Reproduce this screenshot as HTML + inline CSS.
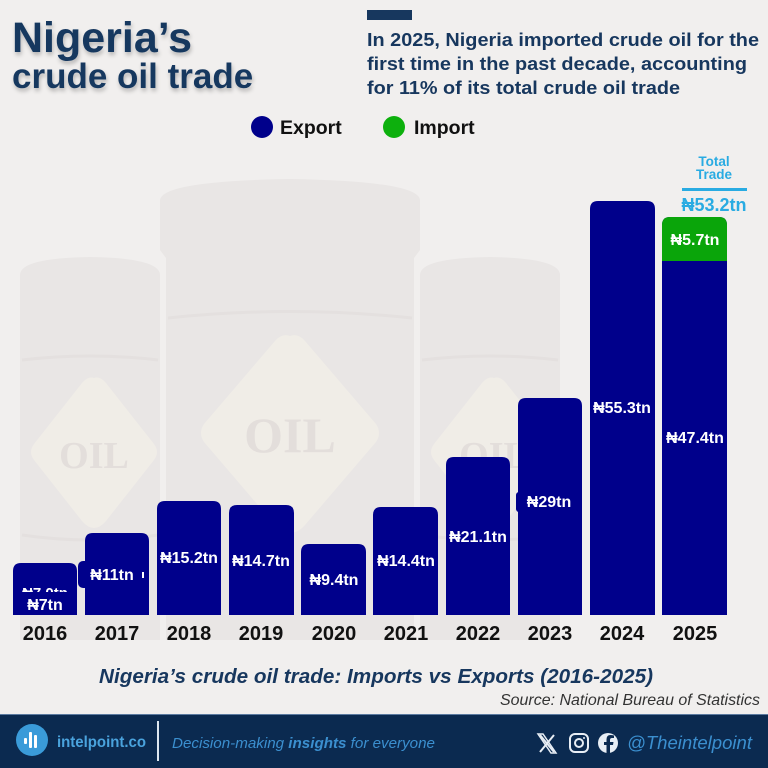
<!DOCTYPE html>
<html>
<head>
<meta charset="utf-8">
<style>
html,body{margin:0;padding:0;background:#f1efee;}
svg{display:block;}
text{font-family:"Liberation Sans",Arial,sans-serif;}
</style>
</head>
<body>
<svg width="768" height="768" viewBox="0 0 768 768" xmlns="http://www.w3.org/2000/svg">
  <defs>
    <filter id="sh" x="-10%" y="-20%" width="120%" height="150%">
      <feGaussianBlur in="SourceAlpha" stdDeviation="2"/>
      <feOffset dx="1" dy="3" result="b"/>
      <feComponentTransfer><feFuncA type="linear" slope="0.25"/></feComponentTransfer>
      <feMerge><feMergeNode/><feMergeNode in="SourceGraphic"/></feMerge>
    </filter>
    <clipPath id="c70"><rect x="0" y="580" width="100" height="12"/></clipPath>
  </defs>
  <rect width="768" height="768" fill="#f1efee"/>

  <!-- barrels background -->
  <g fill="#e9e6e5">
    <path d="M20 275 Q20 258 90 257 Q160 258 160 275 L160 640 L20 640 Z"/>
    <path d="M420 275 Q420 258 490 257 Q560 258 560 275 L560 640 L420 640 Z"/>
    <path d="M160 200 Q162 181 290 179 Q418 181 420 200 L420 250 L414 258 L414 640 L166 640 L166 258 L160 250 Z"/>
  </g>
  <g fill="none" stroke="#e4e0df" stroke-width="3">
    <path d="M168 318 Q290 305 412 318"/>
    <path d="M22 360 Q90 352 158 360"/>
    <path d="M422 360 Q490 352 558 360"/>
    <path d="M22 535 Q90 545 158 535"/>
    <path d="M422 535 Q490 545 558 535"/>
  </g>
  <g fill="#f0ede7">
    <path d="M290 336 Q298 333 305 341 L376 424 Q382 433 376 442 L305 525 Q298 533 290 533 Q282 533 275 525 L204 442 Q198 433 204 424 L275 341 Q282 333 290 336 Z"/>
    <path d="M94 378 Q100 376 106 383 L154 444 Q160 452 154 460 L106 521 Q100 528 94 528 Q88 528 82 521 L34 460 Q28 452 34 444 L82 383 Q88 376 94 378 Z"/>
    <path d="M494 378 Q500 376 506 383 L554 444 Q560 452 554 460 L506 521 Q500 528 494 528 Q488 528 482 521 L434 460 Q428 452 434 444 L482 383 Q488 376 494 378 Z"/>
  </g>
  <g fill="#e3dedb" font-weight="bold" text-anchor="middle">
    <text x="290" y="452" font-size="50" style="font-family:'Liberation Serif',serif">OIL</text>
    <text x="94" y="468" font-size="38" style="font-family:'Liberation Serif',serif">OIL</text>
    <text x="494" y="468" font-size="38" style="font-family:'Liberation Serif',serif">OIL</text>
  </g>

  <!-- title -->
  <g filter="url(#sh)" fill="#17375e" font-weight="bold">
    <text x="12" y="52" font-size="43">Nigeria’s</text>
    <text x="12" y="88" font-size="35">crude oil trade</text>
  </g>

  <!-- subtitle -->
  <rect x="367" y="10" width="45" height="10" fill="#17375e"/>
  <g fill="#17375e" font-weight="bold" font-size="18">
    <text x="367" y="46" textLength="392" lengthAdjust="spacingAndGlyphs">In 2025, Nigeria imported crude oil for the</text>
    <text x="367" y="70" textLength="380" lengthAdjust="spacingAndGlyphs">first time in the past decade, accounting</text>
    <text x="367" y="94" textLength="313" lengthAdjust="spacingAndGlyphs">for 11% of its total crude oil trade</text>
  </g>

  <!-- legend -->
  <circle cx="262" cy="127" r="11" fill="#00008b"/>
  <text x="280" y="134" font-size="19.5" font-weight="bold" fill="#111">Export</text>
  <circle cx="394" cy="127" r="11" fill="#0db00d"/>
  <text x="414" y="134" font-size="19.5" font-weight="bold" fill="#111">Import</text>

  <!-- bars (square bottoms at 615) -->
  <g fill="#00008b">
    <path d="M13 615 V571 Q13 563 21 563 H69 Q77 563 77 571 V615 Z"/>
    <path d="M85 615 V541 Q85 533 93 533 H141 Q149 533 149 541 V615 Z"/>
    <rect x="78" y="561" width="12" height="27" rx="5"/>
    <path d="M157 615 V509 Q157 501 165 501 H213 Q221 501 221 509 V615 Z"/>
    <path d="M229 615 V513 Q229 505 237 505 H286 Q294 505 294 513 V615 Z"/>
    <path d="M301 615 V552 Q301 544 309 544 H358 Q366 544 366 552 V615 Z"/>
    <path d="M373 615 V515 Q373 507 381 507 H430 Q438 507 438 515 V615 Z"/>
    <path d="M446 615 V465 Q446 457 454 457 H502 Q510 457 510 465 V615 Z"/>
    <path d="M518 615 V406 Q518 398 526 398 H574 Q582 398 582 406 V615 Z"/>
    <rect x="516" y="492" width="8" height="20" rx="3"/>
    <path d="M590 615 V209 Q590 201 598 201 H647 Q655 201 655 209 V615 Z"/>
    <path d="M662 615 V225 Q662 217 670 217 H719 Q727 217 727 225 V615 Z"/>
  </g>
  <!-- import segment -->
  <path d="M662 261 L662 225 Q662 217 670 217 L719 217 Q727 217 727 225 L727 261 Z" fill="#0aa50a"/>

  <!-- bar labels -->
  <g fill="#fff" font-weight="bold" font-size="16" text-anchor="middle">
    <text x="45" y="598" clip-path="url(#c70)" font-size="15">₦7.0tn</text>
    <text x="45" y="610">₦7tn</text>
    <text x="112" y="580">₦11tn</text>
    <text x="189" y="563">₦15.2tn</text>
    <text x="261" y="566">₦14.7tn</text>
    <text x="334" y="585">₦9.4tn</text>
    <text x="406" y="566">₦14.4tn</text>
    <text x="478" y="542">₦21.1tn</text>
    <text x="549" y="507">₦29tn</text>
    <text x="622" y="413">₦55.3tn</text>
    <text x="695" y="443">₦47.4tn</text>
    <text x="695" y="245">₦5.7tn</text>
  </g>
  <rect x="142" y="572" width="2" height="6" fill="#fff"/>

  <!-- total trade -->
  <g fill="#29abe2" font-weight="bold" text-anchor="middle">
    <text x="714" y="166" font-size="13.5">Total</text>
    <text x="714" y="179" font-size="13.5">Trade</text>
    <text x="714" y="211" font-size="18">₦53.2tn</text>
  </g>
  <rect x="682" y="188" width="65" height="3" fill="#29abe2"/>

  <!-- year labels -->
  <g fill="#111" font-weight="bold" font-size="20" text-anchor="middle">
    <text x="45" y="640">2016</text>
    <text x="117" y="640">2017</text>
    <text x="189" y="640">2018</text>
    <text x="261" y="640">2019</text>
    <text x="334" y="640">2020</text>
    <text x="406" y="640">2021</text>
    <text x="478" y="640">2022</text>
    <text x="550" y="640">2023</text>
    <text x="622" y="640">2024</text>
    <text x="695" y="640">2025</text>
  </g>

  <!-- caption -->
  <text x="99" y="683" font-size="20" font-style="italic" font-weight="bold" fill="#17375e" textLength="554" lengthAdjust="spacingAndGlyphs">Nigeria’s crude oil trade: Imports vs Exports (2016-2025)</text>
  <text x="500" y="705" font-size="16" font-style="italic" fill="#333" textLength="260" lengthAdjust="spacingAndGlyphs">Source: National Bureau of Statistics</text>

  <!-- footer -->
  <rect x="0" y="714" width="768" height="54" fill="#0b2a50"/>
  <rect x="0" y="714" width="768" height="1" fill="#5b7aa0"/>
  <circle cx="32" cy="740" r="16" fill="#3a9bd9"/>
  <g fill="#fff">
    <rect x="24" y="738" width="3" height="6" rx="1"/>
    <rect x="29" y="732" width="3" height="16" rx="1"/>
    <rect x="34" y="735" width="3" height="13" rx="1"/>
  </g>
  <text x="57" y="747" font-size="15.5" font-weight="bold" fill="#4aa3dd" textLength="89" lengthAdjust="spacingAndGlyphs">intelpoint.co</text>
  <rect x="157" y="721" width="2" height="40" fill="#dde6f0"/>
  <text x="172" y="748" font-size="15" font-style="italic" fill="#3b8fcf" textLength="263" lengthAdjust="spacingAndGlyphs">Decision-making <tspan font-weight="bold">insights</tspan> for everyone</text>
  <!-- icons -->
  <g stroke="#e8eef5" stroke-width="2" fill="none">
    <path d="M540 735 L554 752 M554 735 L540 752"/>
  </g>
  <path d="M538 734 H543 L556 753 H551 Z" fill="none" stroke="#e8eef5" stroke-width="1.5"/>
  <rect x="570" y="734" width="18" height="18" rx="5" fill="none" stroke="#e8eef5" stroke-width="2"/>
  <circle cx="579" cy="743" r="4" fill="none" stroke="#e8eef5" stroke-width="2"/>
  <circle cx="584" cy="738" r="1" fill="#e8eef5"/>
  <circle cx="608" cy="743" r="10" fill="#e8eef5"/>
  <path d="M610 753 L610 745 L613 745 L613.5 742 L610 742 L610 740 Q610 738 612 738 L614 738 L614 735.5 Q612 735 610.5 735 Q606.5 735 606.5 739.5 L606.5 742 L604 742 L604 745 L606.5 745 L606.5 753 Z" fill="#0b2a50"/>
  <text x="627" y="749" font-size="18" font-style="italic" fill="#3b8fcf" textLength="125" lengthAdjust="spacingAndGlyphs">@Theintelpoint</text>
</svg>
</body>
</html>
